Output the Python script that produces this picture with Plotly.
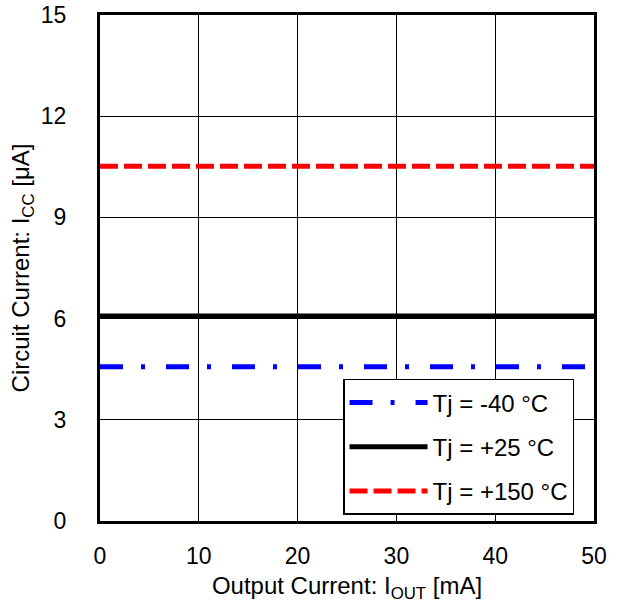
import plotly.graph_objects as go

# Data
iout_ma = [0, 10, 20, 30, 40, 50]
icc_m40 = [4.57, 4.57, 4.57, 4.57, 4.57, 4.57]
icc_p25 = [6.08, 6.08, 6.08, 6.08, 6.08, 6.08]
icc_p150 = [10.52, 10.52, 10.52, 10.52, 10.52, 10.52]
series_names = ["Tj = -40 °C", "Tj = +25 °C", "Tj = +150 °C"]
x_ticks = [0, 10, 20, 30, 40, 50]
y_ticks = [0, 3, 6, 9, 12, 15]

FONT = "Liberation Sans, Arial, sans-serif"
FS = 23

fig = go.Figure()
fig.add_trace(go.Scatter(x=iout_ma, y=icc_m40, mode="lines", name=series_names[0],
                         line=dict(color="#0000ff", width=5, dash="23px,18px,4px,21px"),
                         legendgroup="a"))
fig.add_trace(go.Scatter(x=iout_ma, y=icc_p25, mode="lines", name=series_names[1],
                         line=dict(color="#000000", width=5),
                         legendgroup="b"))
fig.add_trace(go.Scatter(x=iout_ma, y=icc_p150, mode="lines", name=series_names[2],
                         line=dict(color="#ff0000", width=5, dash="18px,6px"),
                         legendgroup="c"))

axis_common = dict(
    showline=True, linewidth=3, linecolor="black", mirror=True,
    showgrid=True, gridcolor="black", gridwidth=1,
    ticks="", zeroline=False, automargin=False,
    ticklabeloverflow="allow",
    tickfont=dict(family=FONT, size=FS, color="black"),
)

fig.update_xaxes(range=[0, 50], tickvals=x_ticks, ticklabelstandoff=12,
                 title=dict(text="Output Current: I<sub>OUT</sub> [mA]",
                            font=dict(family=FONT, size=24, color="black"), standoff=10),
                 **axis_common)
fig.update_yaxes(range=[0, 15], tickvals=y_ticks, ticklabelstandoff=26,
                 title=dict(text="Circuit Current: I<sub>CC</sub> [μA]",
                            font=dict(family=FONT, size=24, color="black"), standoff=5),
                 **axis_common)

fig.update_layout(
    width=624, height=608,
    margin=dict(l=100, r=30, t=15, b=87),
    paper_bgcolor="white", plot_bgcolor="white",
    font=dict(family=FONT, size=FS, color="black"),
    legend=dict(
        x=0.492, y=0.012, xanchor="left", yanchor="bottom",
        bgcolor="white", bordercolor="black", borderwidth=1.5,
        font=dict(family=FONT, size=24, color="black"),
        tracegroupgap=10, itemwidth=78,
    ),
    showlegend=True,
)

fig.write_html("out.html", config={"displayModeBar": False},
               post_script="document.body.style.margin='0px';")
